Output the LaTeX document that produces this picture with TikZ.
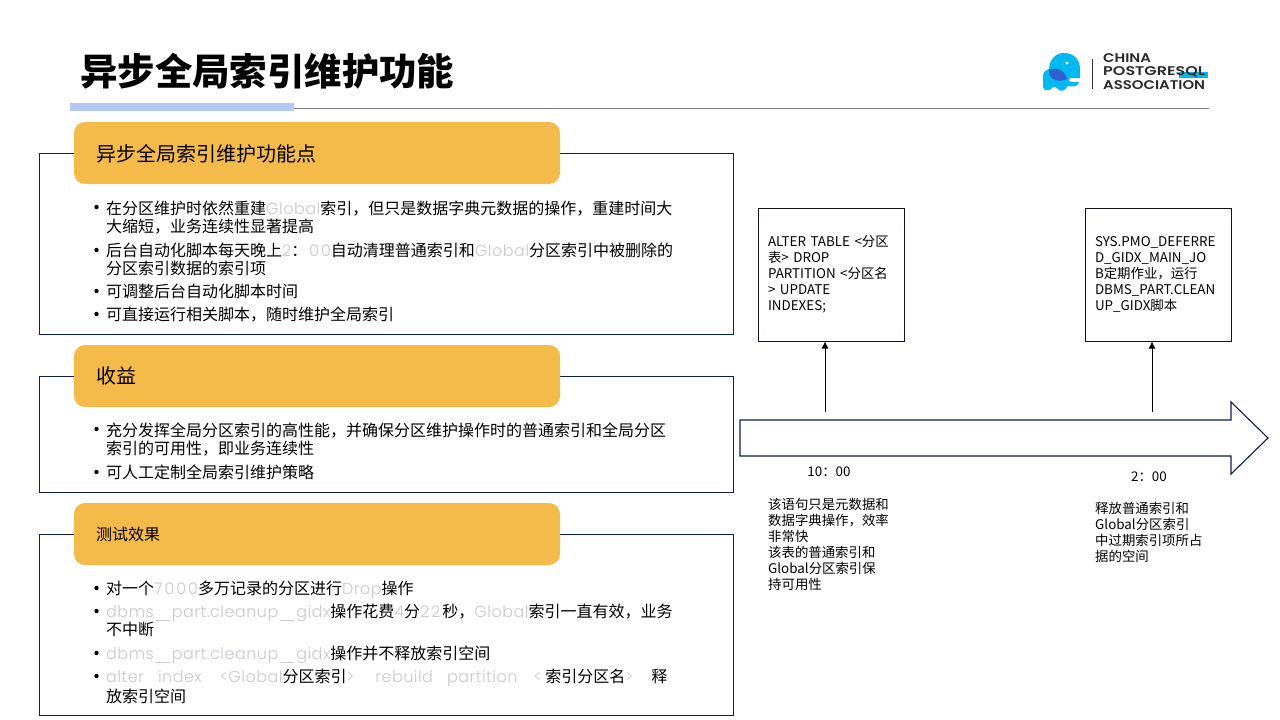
\documentclass[tikz,border=0pt]{standalone}
\usepackage{fontspec}
\setmainfont{Noto Sans CJK SC}
\newfontfamily\latinlight[LetterSpace=3]{Poppins Light}
\newfontfamily\latinnum[LetterSpace=12]{Poppins Light}
\newfontfamily\logofont[FakeStretch=1.18]{Poppins SemiBold}
\newfontfamily\logowide[FakeStretch=1.27]{Poppins SemiBold}
\usepackage{tikz}
\usetikzlibrary{arrows.meta}
\usetikzlibrary{positioning}
\definecolor{headfill}{HTML}{F4BA4A}
\definecolor{framecol}{HTML}{0B1F5C}
\definecolor{boxcol}{HTML}{101030}
\definecolor{barcol}{HTML}{B4C7F5}
\definecolor{ghost}{HTML}{C9C9CF}
\definecolor{logoblue}{HTML}{00B9EF}
\definecolor{logodark}{HTML}{2F5FD0}
\definecolor{logotext}{HTML}{2B2B2B}
\newcommand{\gh}[1]{{\latinlight\textcolor{ghost}{#1}}}
\newcommand{\gn}[1]{{\latinnum\textcolor{ghost}{#1}}}
\newcommand{\us}{\hspace{2pt}\rule[-2.5pt]{14pt}{0.5pt}\hspace{2pt}}
\tikzset{
  frame/.style={draw=framecol, line width=0.9pt, fill=white},
  head/.style={fill=headfill, rounded corners=11pt},
  headtext/.style={anchor=west, inner sep=0pt, font=\fontsize{20}{24}\selectfont},
  itemtext/.style={anchor=north west, inner sep=0pt, align=left, font=\fontsize{16}{21}\selectfont},
  timebox/.style={draw=boxcol, line width=1pt, minimum width=146pt, minimum height=133pt,
    text width=126pt, inner sep=0pt, align=left, font=\fontsize{13.4}{16}\selectfont},
  notetext/.style={anchor=north west, inner sep=0pt, align=left, font=\fontsize{13.4}{16}\selectfont},
  logotxt/.style={anchor=west, inner sep=0pt, text=logotext, font=\logofont\fontsize{12.6}{14}\selectfont}
}
\begin{document}
\begin{tikzpicture}[x=1pt, y=-1pt]

  \useasboundingbox (0, 0) rectangle (1280, 720);

  % title
  \node [anchor=west, inner sep=0pt, font=\fontsize{37.4}{42}\selectfont\bfseries] (title) at (80, 71) {异步全局索引维护功能};
  \draw [gray, line width=0.8pt] (294, 108) -- (1209, 108);
  \fill [barcol] (70, 103) rectangle (294, 111);

  % logo
  \fill [logoblue] (1049, 70) .. controls (1049, 59) and (1056, 53) .. (1064, 53)
    .. controls (1074, 53) and (1080, 60) .. (1080, 69) -- (1080, 78)
    -- (1070, 78) .. controls (1068, 80) and (1069, 82) .. (1071, 82) -- (1079, 82)
    .. controls (1078, 87) and (1072, 87) .. (1067, 86) -- (1064, 82) -- (1049, 78) -- cycle;
  \fill [logoblue] (1043, 76) .. controls (1043, 71) and (1047, 69) .. (1053, 68)
    .. controls (1061, 68) and (1067, 72) .. (1067, 78) -- (1067, 87)
    .. controls (1065, 91) and (1060, 92) .. (1058, 89)
    .. controls (1055, 86) and (1053, 86) .. (1051, 89)
    .. controls (1048, 91) and (1044, 91) .. (1043, 87) -- cycle;
  \fill [logodark] (1049, 70) .. controls (1056, 66) and (1066, 71) .. (1067, 79)
    .. controls (1059, 83) and (1050, 80) .. (1049, 72) -- cycle;
  \fill [white] (1067, 63) circle (1.6);
  \draw [black!80, line width=0.8pt] (1092, 59) -- (1092, 89);
  \fill [logoblue] (1179, 72) rectangle (1208, 78);
  \node [logotxt] (logoa) at (1103, 58) {CHINA};
  \node [logotxt, font=\logowide\fontsize{12.6}{14}\selectfont] (logob) at (1103, 71.5) {POSTGRESQL};
  \node [logotxt] (logoc) at (1103, 85) {ASSOCIATION};

  % left panels
  \draw [frame] (39, 153) rectangle (733, 334);
  \draw [frame] (39, 376) rectangle (733, 492);
  \draw [frame] (39, 534) rectangle (733, 715);
  \fill [head] (74, 122) rectangle (560, 184);
  \fill [head] (74, 345) rectangle (560, 407);
  \fill [head] (74, 503) rectangle (560, 565);
  \node [headtext] (heada) at (96, 153.5) {异步全局索引维护功能点};
  \node [headtext] (headb) at (96, 376) {收益};
  \node [headtext, font=\fontsize{16}{20}\selectfont] (headc) at (96, 534.5) {测试效果};

  \foreach \y in {207, 250, 291, 314, 429, 472, 588, 611, 653, 676}
    \fill (96.5, \y) circle (2.2);

  \node [itemtext] (ia) at (106, 200.5) {在分区维护时依然重建\gh{Global}索引，但只是数据字典元数据的操作，重建时间大\\[-3pt]大缩短，业务连续性显著提高};
  \node [itemtext] (ib) at (106, 243) {后台自动化脚本每天晚上\gn{2}：\hspace{2pt}\gn{00}自动清理普通索引和\gh{Global}分区索引中被删除的\\[-3pt]分区索引数据的索引项};
  \node [itemtext] (ic) at (106, 284) {可调整后台自动化脚本时间};
  \node [itemtext] (id) at (106, 307) {可直接运行相关脚本，随时维护全局索引};
  \node [itemtext] (ie) at (106, 423) {充分发挥全局分区索引的高性能，并确保分区维护操作时的普通索引和全局分区\\[-3pt]索引的可用性，即业务连续性};
  \node [itemtext] (if) at (106, 465) {可人工定制全局索引维护策略};
  \node [itemtext] (ig) at (106, 581) {对一个\gn{7000}多万记录的分区进行\gh{Drop}操作};
  \node [itemtext] (ih) at (106, 604) {\gh{dbms\us part.cleanup\us gidx}操作花费\gn{4}分\gn{22}\hspace{2pt}秒，\gh{Global}索引一直有效，业务\\[-3pt]不中断};
  \node [itemtext] (ii) at (106, 646) {\gh{dbms\us part.cleanup\us gidx}操作并不释放索引空间};
  \node [itemtext] (ij) at (106, 669) {\gh{alter\hspace{14pt}index\hspace{18pt}<Global}分区索引\gh{>\hspace{21pt}rebuild\hspace{14pt}partition\hspace{16pt}<}\hspace{4pt}索引分区名\gh{>}\hspace{18pt}释\\[-1pt]放索引空间};

  % timeline
  \draw [draw=framecol!90!black, line width=1.1pt, fill=white] (740, 420) -- (1231, 420) -- (1231, 402)
    -- (1268, 438) -- (1231, 474) -- (1231, 456) -- (740, 456) -- cycle;

  \node [timebox] (boxa) at (831, 274.5) {ALTER TABLE <分区\\表> DROP\\PARTITION <分区名\\> UPDATE\\INDEXES;};
  \node [timebox] (boxb) at (1158, 274.5) {SYS.PMO\_DEFERRE\\D\_GIDX\_MAIN\_JO\\B定期作业，运行\\DBMS\_PART.CLEAN\\UP\_GIDX脚本};

  \coordinate (ta) at (825, 412);
  \coordinate (tb) at (1152, 412);
  \draw [-{Latex[length=7pt, width=7pt]}, line width=0.8pt] (ta) -- (ta |- boxa.south);
  \draw [-{Latex[length=7pt, width=7pt]}, line width=0.8pt] (tb) -- (tb |- boxb.south);

  \node [inner sep=0pt, font=\fontsize{13.4}{16}\selectfont] (timea) at (829, 472) {10：00};
  \node [inner sep=0pt, font=\fontsize{13.4}{16}\selectfont] (timeb) at (1149, 477) {2：00};
  \node [notetext] (notea) at (768, 497.5) {该语句只是元数据和\\数据字典操作，效率\\非常快\\该表的普通索引和\\Global分区索引保\\持可用性};
  \node [notetext] (noteb) at (1095, 502.5) {释放普通索引和\\Global分区索引\\中过期索引项所占\\据的空间};

\end{tikzpicture}
\end{document}
